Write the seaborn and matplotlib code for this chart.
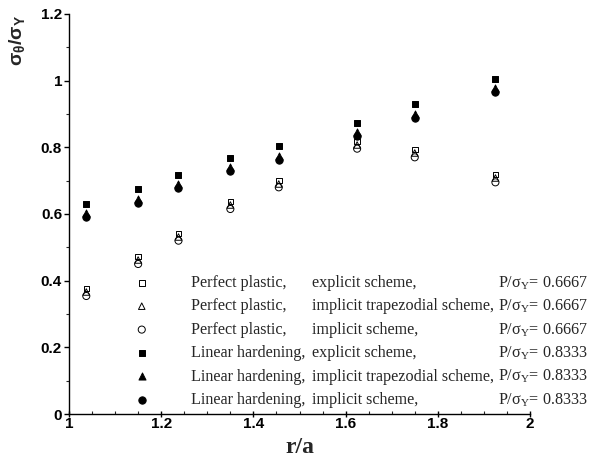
import matplotlib
matplotlib.use("Agg")
import matplotlib.pyplot as plt
import seaborn as sns
import pandas as pd
from matplotlib.ticker import MultipleLocator

# Normalised radius
r_a = [1.0375, 1.15, 1.2375, 1.35, 1.455, 1.625, 1.75, 1.925]

# Hoop stress sigma_theta / sigma_Y
pp_explicit = [0.376, 0.472, 0.542, 0.637, 0.700, 0.817, 0.794, 0.718]
pp_trapezoidal = [0.366, 0.462, 0.531, 0.627, 0.690, 0.807, 0.783, 0.708]
pp_implicit = [0.354, 0.450, 0.520, 0.615, 0.680, 0.796, 0.770, 0.695]
lh_explicit = [0.630, 0.675, 0.717, 0.767, 0.804, 0.874, 0.929, 1.004]
lh_trapezoidal = [0.603, 0.645, 0.689, 0.741, 0.774, 0.846, 0.900, 0.978]
lh_implicit = [0.592, 0.633, 0.678, 0.729, 0.762, 0.833, 0.888, 0.965]

material = ["Perfect plastic,", "Perfect plastic,", "Perfect plastic,",
            "Linear hardening,", "Linear hardening,", "Linear hardening,"]
scheme = ["explicit scheme,", "implicit trapezodial scheme,", "implicit scheme,",
          "explicit scheme,", "implicit trapezodial scheme,", "implicit scheme,"]
load = ["0.6667", "0.6667", "0.6667", "0.8333", "0.8333", "0.8333"]
series = [pp_explicit, pp_trapezoidal, pp_implicit,
          lh_explicit, lh_trapezoidal, lh_implicit]

# marker, filled?, size
styles = [("s", False, 16), ("^", False, 22), ("o", False, 26),
          ("s", True, 18), ("^", True, 26), ("o", True, 28)]

sns.set_theme(style="ticks")
plt.rcParams["font.family"] = ["Liberation Sans", "DejaVu Sans"]

fig = plt.figure(figsize=(5.89, 4.66), dpi=100)
W, H = 589, 466
ax = fig.add_axes([69 / W, (466 - 414) / H, 461 / W, 400 / H])

handles = []
for vals, (mk, filled, sz), mat in zip(series, styles, material):
    df = pd.DataFrame({"r": r_a, "s": vals})
    before = len(ax.collections)
    sns.scatterplot(data=df, x="r", y="s", marker=mk, s=sz, ax=ax,
                    color="black" if filled else "none",
                    edgecolor="black", linewidth=0.7, zorder=3 if filled else 2)
    handles.append(ax.collections[before])

ax.set_xlim(1, 2)
ax.set_ylim(0, 1.2)
ax.xaxis.set_major_locator(MultipleLocator(0.2))
ax.xaxis.set_minor_locator(MultipleLocator(0.05))
ax.yaxis.set_major_locator(MultipleLocator(0.2))
ax.yaxis.set_minor_locator(MultipleLocator(0.1))
ax.set_xticks([1, 1.2, 1.4, 1.6, 1.8, 2])
ax.set_xticklabels(["1", "1.2", "1.4", "1.6", "1.8", "2"])
ax.set_yticks([0, 0.2, 0.4, 0.6, 0.8, 1.0, 1.2])
ax.set_yticklabels(["0", "0.2", "0.4", "0.6", "0.8", "1", "1.2"])

for sp in ["top", "right"]:
    ax.spines[sp].set_visible(False)
for sp in ["left", "bottom"]:
    ax.spines[sp].set_linewidth(1.0)
    ax.spines[sp].set_color("black")

ax.tick_params(axis="y", which="major", direction="out", length=3.5, width=1,
               pad=1.5, labelsize=11, colors="black")
ax.tick_params(axis="y", which="minor", direction="out", length=2, width=0.8)
ax.tick_params(axis="x", which="major", direction="inout", length=5, width=1,
               pad=0, labelsize=11, colors="black")
ax.tick_params(axis="x", which="minor", direction="in", length=2.5, width=0.8)
for lab in ax.get_xticklabels() + ax.get_yticklabels():
    lab.set_fontweight("bold")

ax.set_xlabel("r/a", family="Liberation Serif", fontweight="bold", fontsize=17,
              labelpad=4)
ax.set_ylabel(r"σ$_\mathregular{θ}$/σ$_\mathregular{Y}$", fontweight="bold",
              fontsize=14)
ax.yaxis.label.set_verticalalignment("center")
ax.yaxis.set_label_coords(-0.11, 0.935)

fs = 11.6
leg = ax.legend(handles, material, loc="upper left",
                bbox_to_anchor=(134.5 / W, (466 - 275) / H),
                bbox_transform=fig.transFigure, frameon=False,
                prop={"family": "Liberation Serif", "size": fs},
                handlelength=0.9, handletextpad=2.63, labelspacing=0.46,
                borderpad=0, borderaxespad=0)

fig.canvas.draw()
inv = fig.transFigure.inverted()
for t, sc, ld in zip(leg.get_texts(), scheme, load):
    bx, by = t.get_transform().transform((0, 0))
    _, yf = inv.transform((bx, by))
    fig.text(312 / W, yf, sc, family="Liberation Serif", size=fs,
             va="baseline", ha="left")
    fig.text(498 / W, yf, r"P/σ$_\mathregular{Y}$= " + ld,
             family="Liberation Serif", size=fs, va="baseline", ha="left")

fig.savefig("out.png", dpi=100)
